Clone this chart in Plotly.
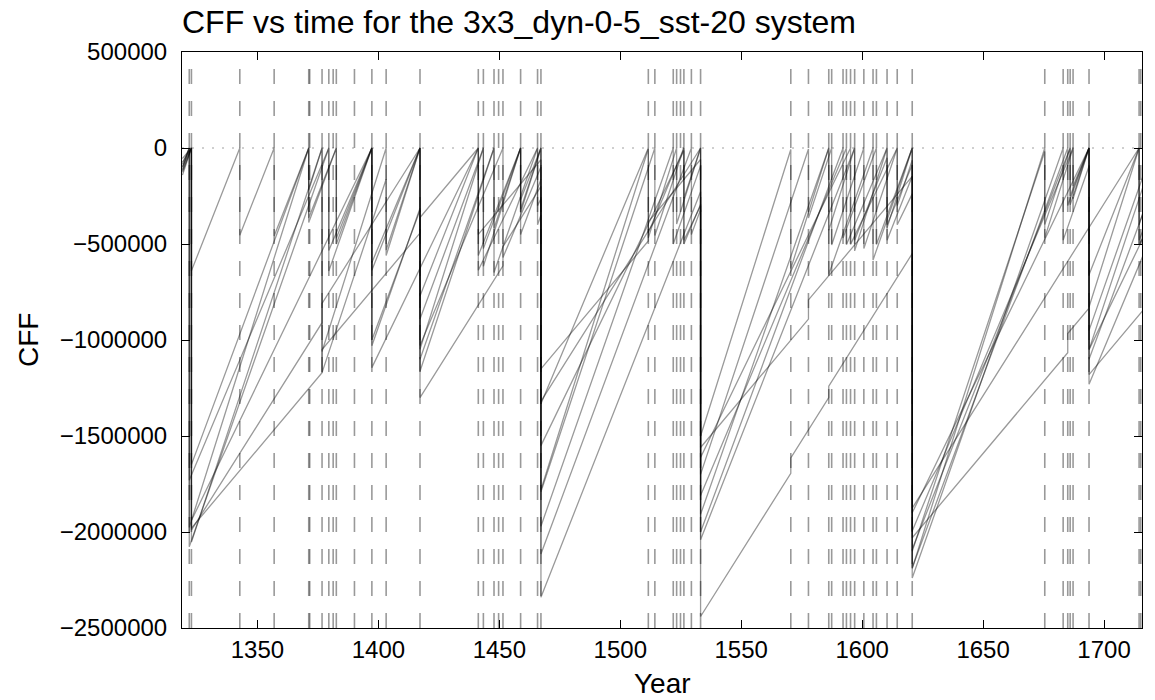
import plotly.graph_objects as go

# CFF values are given in thousands
SCALE = 1000

event_years = [1321.8, 1322.7, 1342.7, 1356.9, 1371.2, 1371.6, 1376.7, 1379.5, 1381.3, 1382.6,
               1390.1, 1397.3, 1403.2, 1417.2, 1441.3, 1443.4, 1447.8, 1449.7, 1451.5, 1458.8,
               1465.8, 1467.2, 1511.6, 1514.3, 1521.9, 1523.3, 1524.9, 1526.3, 1529.4, 1533.2,
               1570.5, 1577.8, 1586.2, 1587.4, 1592.1, 1593.5, 1595.2, 1596.9, 1600.7, 1604.5,
               1605.9, 1610.3, 1614.5, 1620.7, 1675.5, 1683.1, 1685.0, 1686.0, 1687.2, 1693.8,
               1714.5, 1715.2]

el1 = [(1319.0,-118),(1322.7,0),(1322.7,-640),(1342.7,0),(1342.7,-454),(1356.9,0),(1356.9,-458),
       (1371.2,0),(1371.2,-365),(1382.6,0),(1382.6,-470),(1397.3,0),(1397.3,-637),(1417.2,0),
       (1417.2,-771),(1441.3,0),(1441.3,-560),(1458.8,0),(1458.8,-269),(1467.2,0),(1467.2,-2340),
       (1533.2,-228),(1533.2,-2040),(1596.9,0),(1596.9,-480),(1610.3,-51),(1610.3,-480),
       (1620.7,-147),(1620.7,-2090),(1686.0,0),(1686.0,-250),(1693.8,0),(1693.8,-660),
       (1714.5,0),(1714.5,-480),(1716.0,-432)]
el2 = [(1319.0,-112),(1321.8,0),(1321.8,-1976),(1371.2,0),(1371.2,-220),(1376.7,0),(1376.7,-1060),
       (1403.2,0),(1403.2,-560),(1417.2,0),(1417.2,-1048),(1443.4,0),(1443.4,-616),(1458.8,0),
       (1458.8,-336),(1467.2,0),(1467.2,-1780),(1511.6,-4),(1511.6,-468),(1523.3,0),(1523.3,-396),
       (1533.2,0),(1533.2,-1500),(1570.5,-8),(1570.5,-628),(1586.2,0),(1586.2,-428),(1596.9,0),
       (1596.9,-536),(1610.3,0),(1610.3,-416),(1620.7,0),(1620.7,-2190),(1675.5,0),(1675.5,-468),
       (1687.2,0),(1687.2,-264),(1693.8,0),(1693.8,-828),(1714.5,0),(1714.5,-400),(1716.0,-340)]
el3 = [(1319.0,-141),(1322.7,0),(1322.7,-2052),(1376.7,0),(1376.7,-1170),(1403.2,-163),
       (1403.2,-532),(1417.2,0),(1417.2,-1163),(1447.8,0),(1447.8,-418),(1458.8,0),(1458.8,-319),
       (1467.2,0),(1467.2,-1790),(1514.3,0),(1514.3,-456),(1526.3,0),(1526.3,-262),(1533.2,0),
       (1533.2,-1700),(1577.8,-5),(1577.8,-365),(1587.4,0),(1587.4,-505),(1600.7,0),(1600.7,-524),
       (1614.5,0),(1614.5,-300),(1620.7,-64),(1620.7,-2100),(1675.5,-18),(1675.5,-399),(1686.0,0),
       (1686.0,-296),(1693.8,0),(1693.8,-1050),(1716.0,-206)]
el4 = [(1319.0,-101),(1321.8,0),(1321.8,-2077),(1379.5,0),(1379.5,-641),(1397.3,0),(1397.3,-1030),
       (1417.2,-314),(1417.2,-1100),(1447.8,0),(1447.8,-648),(1465.8,0),(1465.8,-400),(1467.2,-350),
       (1467.2,-1970),(1521.9,0),(1521.9,-500),(1533.2,-93),(1533.2,-1908),(1586.2,0),(1586.2,-659),
       (1604.5,0),(1604.5,-583),(1620.7,0),(1620.7,-2240),(1683.1,0),(1683.1,-480),(1693.8,-95),
       (1693.8,-950),(1716.0,-151)]
el5 = [(1319.0,-126),(1322.7,0),(1322.7,-1649),(1371.2,0),(1371.2,-388),(1382.6,0),(1382.6,-500),
       (1397.3,0),(1397.3,-1000),(1417.2,-324),(1417.2,-891),(1443.4,0),(1443.4,-524),(1458.8,0),
       (1458.8,-450),(1467.2,-164),(1467.2,-2115),(1529.4,0),(1529.4,-450),(1533.2,-321),
       (1533.2,-2000),(1592.1,0),(1592.1,-469),(1605.9,0),(1605.9,-503),(1620.7,0),(1620.7,-2186),
       (1685.0,0),(1685.0,-300),(1693.8,0),(1693.8,-1100),(1716.0,-345)]
el6 = [(1319.0,-84),(1321.8,0),(1321.8,-1731),(1379.5,0),(1379.5,-534),(1397.3,0),(1397.3,-597),
       (1417.2,0),(1417.2,-1029),(1451.5,0),(1451.5,-570),(1467.2,-99),(1467.2,-1332),(1511.6,0),
       (1511.6,-441),(1526.3,0),(1526.3,-500),(1533.2,-293),(1533.2,-1810),(1593.5,0),(1593.5,-504),
       (1610.3,0),(1610.3,-400),(1620.7,-88),(1620.7,-1995),(1687.2,0),(1687.2,-198),(1693.8,0),
       (1693.8,-1230),(1716.0,-564)]
el7 = [(1319.0,-96),(1322.7,0),(1322.7,-1940),(1397.3,0),(1397.3,-1144),(1441.3,0),(1441.3,-637),
       (1465.8,0),(1465.8,-300),(1467.2,-264),(1467.2,-1550),(1526.3,-13),(1526.3,-480),
       (1533.2,-301),(1533.2,-1612),(1595.2,0),(1595.2,-502),(1614.5,0),(1614.5,-400),(1620.7,-239),
       (1620.7,-1900),(1693.8,0),(1693.8,-1050),(1716.0,-473)]
el8 = [(1319.0,-74),(1322.7,0),(1322.7,-1990),(1376.7,-910),(1376.7,-810),(1417.2,0),(1417.2,-1300),
       (1451.5,-614),(1451.5,-514),(1467.2,-200),(1467.2,-1320),(1533.2,0),(1533.2,-2440),
       (1570.5,-1694),(1570.5,-1614),(1586.2,-1300),(1586.2,-1240),(1620.7,-550),(1620.7,-1876),
       (1714.5,0),(1714.5,-500),(1716.0,-470)]
el9 = [(1319.0,-55),(1322.7,0),(1322.7,-1980),(1376.7,-1170),(1376.7,-1050),(1417.2,-443),
       (1417.2,-362),(1441.3,0),(1441.3,-450),(1467.2,-61),(1467.2,-1150),(1511.6,-484),
       (1511.6,-384),(1533.2,-60),(1533.2,-1560),(1577.8,-891),(1577.8,-791),(1620.7,-148),
       (1620.7,-2030),(1685.0,-1066),(1685.0,-966),(1693.8,-834),(1693.8,-1180),(1716.0,-847)]

elements = [el1, el2, el3, el4, el5, el6, el7, el8, el9]

x_tick_vals = [1350, 1400, 1450, 1500, 1550, 1600, 1650, 1700]
y_tick_vals = [500000, 0, -500000, -1000000, -1500000, -2000000, -2500000]
y_tick_text = ["500000", "0", "\u2212500000", "\u22121000000", "\u22121500000",
               "\u22122000000", "\u22122500000"]
x_range = [1318.8, 1715.7]
y_range = [-2500000, 500000]

FONT = "Liberation Sans, Arial, Helvetica, sans-serif"
W, H = 1155, 700
ML, MR, MT, MB = 182, 13, 52, 72
PW, PH = W - ML - MR, H - MT - MB

fig = go.Figure()
for i, el in enumerate(elements):
    t, v = zip(*el)
    fig.add_trace(go.Scatter(
        x=list(t), y=[val * SCALE for val in v], mode="lines",
        line=dict(color="rgba(0,0,0,0.4)", width=1.3),
        name=f"element {i+1}", hoverinfo="x+y"))

shapes = []
for t in event_years:
    shapes.append(dict(type="line", xref="x", yref="paper", x0=t, x1=t, y0=0, y1=1,
                       line=dict(color="rgba(0,0,0,0.4)", width=1.6, dash="15px,17px"),
                       layer="below"))
shapes.append(dict(type="line", xref="paper", yref="y", x0=0, x1=1, y0=0, y1=0,
                   line=dict(color="rgba(0,0,0,0.25)", width=1.5, dash="2px,8px"),
                   layer="below"))

axis_common = dict(showgrid=False, zeroline=False, showline=True, linecolor="black",
                   linewidth=1, mirror="ticks", ticks="inside", ticklen=8, tickwidth=1,
                   tickcolor="black", automargin=False,
                   tickfont=dict(size=24, color="black", family=FONT))

annotations = [
    dict(text="Year", xref="paper", yref="paper", x=0.5, y=-(683 - (H - MB)) / PH,
         xanchor="center", yanchor="middle", showarrow=False,
         font=dict(size=28, color="black", family=FONT)),
    dict(text="CFF", xref="paper", yref="paper", x=-(ML - 28) / PW, y=0.5,
         xanchor="center", yanchor="middle", textangle=-90, showarrow=False,
         font=dict(size=28, color="black", family=FONT)),
]

fig.update_layout(
    width=W, height=H,
    margin=dict(l=ML, r=MR, t=MT, b=MB),
    plot_bgcolor="white", paper_bgcolor="white",
    showlegend=False,
    font=dict(family=FONT, color="black"),
    title=dict(text="CFF vs time for the 3x3_dyn-0-5_sst-20 system",
               x=0, xref="paper", xanchor="left",
               y=1 - 22 / H, yref="container", yanchor="middle",
               font=dict(size=32, color="black", family=FONT)),
    xaxis=dict(range=x_range, tickvals=x_tick_vals, **axis_common),
    yaxis=dict(range=y_range, tickvals=y_tick_vals, ticktext=y_tick_text,
               ticklabelstandoff=9, **axis_common),
    shapes=shapes,
    annotations=annotations,
)

fig.write_html("out.html",
               config={"displayModeBar": False},
               post_script="document.body.style.margin='0';document.body.style.overflow='hidden';")
